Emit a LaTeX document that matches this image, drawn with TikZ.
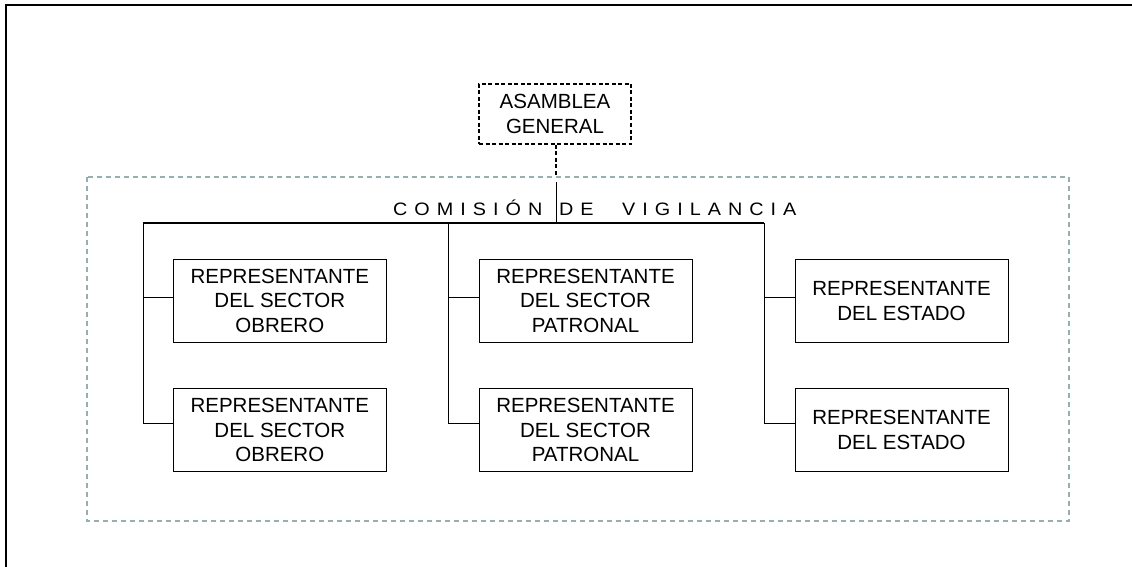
\documentclass[tikz,border=0pt]{standalone}
\usepackage{fontspec}
\setmainfont{Liberation Sans}
\newfontfamily\titlefont{Liberation Sans}[FakeStretch=1.1]
\newcommand\lsp{\kern7pt}
\definecolor{framegrey}{RGB}{150,175,175}
\begin{document}
\begin{tikzpicture}[x=1pt,y=-1pt,
  repbox/.style={draw, line width=0.9pt, minimum width=213pt, minimum height=83.5pt, inner sep=0pt, align=center, font=\fontsize{20.5}{24.5}\selectfont},
  topbox/.style={draw, line width=1.2pt, dash pattern=on 4pt off 2.5pt, minimum width=152pt, minimum height=60pt, inner sep=0pt, align=center, font=\fontsize{20.5}{24.5}\selectfont},
  conn/.style={line width=0.9pt},
  titletext/.style={inner sep=0pt, anchor=base west, font=\titlefont\fontsize{18}{20}\selectfont}]
\useasboundingbox (0,0) rectangle (1132,567);
% outer frame (top and left only)
\draw[line width=1.8pt] (6,567) -- (6,5) -- (1132,5);
% grey dashed frame of the commission
\draw[framegrey, line width=1.1pt, dash pattern=on 5pt off 4pt] (87,177) rectangle (1069,521);
% top box
\node[topbox] (ag) at (555,114) {ASAMBLEA\\GENERAL};
% representative boxes
\node[repbox] (o1) at (279.8,300.7) {REPRESENTANTE\\DEL SECTOR\\OBRERO};
\node[repbox] (o2) at (279.8,430) {REPRESENTANTE\\DEL SECTOR\\OBRERO};
\node[repbox] (p1) at (585.5,300.7) {REPRESENTANTE\\DEL SECTOR\\PATRONAL};
\node[repbox] (p2) at (585.5,430) {REPRESENTANTE\\DEL SECTOR\\PATRONAL};
\node[repbox] (e1) at (901.5,300.7) {REPRESENTANTE\\DEL ESTADO};
\node[repbox] (e2) at (901.5,430) {REPRESENTANTE\\DEL ESTADO};
% title
\node[titletext] (t1) at (393,215.5) {C\lsp O\lsp M\lsp I\lsp S\lsp I\lsp Ó\lsp N};
\node[titletext] (t2) at (559,215.5) {D\lsp E};
\node[titletext] (t3) at (622,215.5) {V\lsp I\lsp G\lsp I\lsp L\lsp A\lsp N\lsp C\lsp I\lsp A};
% bus coordinates
\coordinate (dashend) at (556,177);
\coordinate (solidtop) at (556,182);
\coordinate (busmid) at (556,223);
\coordinate (busL) at (143,223);
\coordinate (busM) at (448,223);
\coordinate (busR) at (764,223);
% connectors
\draw[line width=1.2pt, dash pattern=on 4pt off 2.5pt] (ag.south -| dashend) -- (dashend);
\draw[conn] (solidtop) -- (busmid);
\draw[line width=1.2pt] (busL) -- (busR);
\draw[conn] (busL) |- ([yshift=7pt]o2.west);
\draw[conn] ([yshift=3.5pt]o1.west -| busL) -- ([yshift=3.5pt]o1.west);
\draw[conn] (busM) |- ([yshift=7pt]p2.west);
\draw[conn] ([yshift=3.5pt]p1.west -| busM) -- ([yshift=3.5pt]p1.west);
\draw[conn] (busR) |- ([yshift=7pt]e2.west);
\draw[conn] ([yshift=3.5pt]e1.west -| busR) -- ([yshift=3.5pt]e1.west);
\end{tikzpicture}
\end{document}
